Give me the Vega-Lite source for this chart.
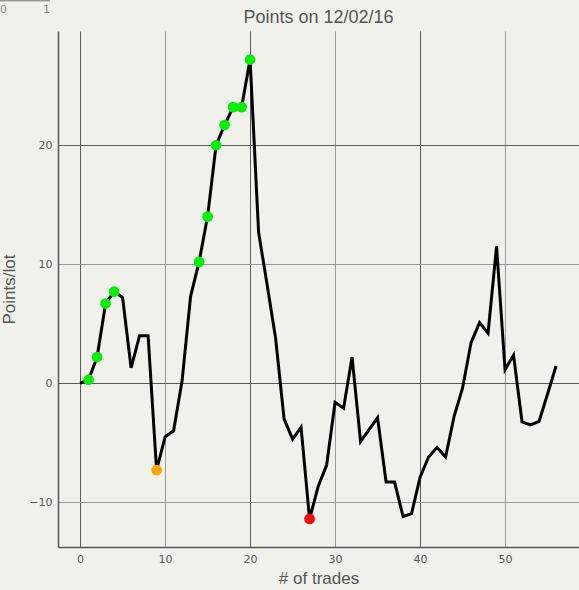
{
  "$schema": "https://vega.github.io/schema/vega-lite/v6.json",
  "width": 521,
  "height": 516,
  "autosize": {"type": "none"},
  "padding": {"left": 58, "top": 31, "right": 0, "bottom": 43},
  "background": "#f1f1ec",
  "title": {"text": "Points on 12/02/16", "font": "Liberation Sans", "fontSize": 18, "fontWeight": "normal", "color": "#555555", "offset": 4, "dy": 31},
  "data": {
    "values": [
      {"trade": 0, "points": 0.0, "marker": null},
      {"trade": 1, "points": 0.3, "marker": "new high"},
      {"trade": 2, "points": 2.2, "marker": "new high"},
      {"trade": 3, "points": 6.7, "marker": "new high"},
      {"trade": 4, "points": 7.7, "marker": "new high"},
      {"trade": 5, "points": 7.2, "marker": null},
      {"trade": 6, "points": 1.3, "marker": null},
      {"trade": 7, "points": 4.0, "marker": null},
      {"trade": 8, "points": 4.0, "marker": null},
      {"trade": 9, "points": -7.3, "marker": "low"},
      {"trade": 10, "points": -4.5, "marker": null},
      {"trade": 11, "points": -4.0, "marker": null},
      {"trade": 12, "points": 0.2, "marker": null},
      {"trade": 13, "points": 7.3, "marker": null},
      {"trade": 14, "points": 10.2, "marker": "new high"},
      {"trade": 15, "points": 14.0, "marker": "new high"},
      {"trade": 16, "points": 20.0, "marker": "new high"},
      {"trade": 17, "points": 21.7, "marker": "new high"},
      {"trade": 18, "points": 23.2, "marker": "new high"},
      {"trade": 19, "points": 23.2, "marker": "new high"},
      {"trade": 20, "points": 27.2, "marker": "new high"},
      {"trade": 21, "points": 12.7, "marker": null},
      {"trade": 22, "points": 8.3, "marker": null},
      {"trade": 23, "points": 3.8, "marker": null},
      {"trade": 24, "points": -3.0, "marker": null},
      {"trade": 25, "points": -4.7, "marker": null},
      {"trade": 26, "points": -3.7, "marker": null},
      {"trade": 27, "points": -11.4, "marker": "lowest"},
      {"trade": 28, "points": -8.7, "marker": null},
      {"trade": 29, "points": -6.9, "marker": null},
      {"trade": 30, "points": -1.6, "marker": null},
      {"trade": 31, "points": -2.1, "marker": null},
      {"trade": 32, "points": 2.2, "marker": null},
      {"trade": 33, "points": -4.9, "marker": null},
      {"trade": 34, "points": -3.9, "marker": null},
      {"trade": 35, "points": -2.9, "marker": null},
      {"trade": 36, "points": -8.3, "marker": null},
      {"trade": 37, "points": -8.3, "marker": null},
      {"trade": 38, "points": -11.2, "marker": null},
      {"trade": 39, "points": -10.95, "marker": null},
      {"trade": 40, "points": -7.9, "marker": null},
      {"trade": 41, "points": -6.2, "marker": null},
      {"trade": 42, "points": -5.4, "marker": null},
      {"trade": 43, "points": -6.2, "marker": null},
      {"trade": 44, "points": -2.8, "marker": null},
      {"trade": 45, "points": -0.4, "marker": null},
      {"trade": 46, "points": 3.4, "marker": null},
      {"trade": 47, "points": 5.1, "marker": null},
      {"trade": 48, "points": 4.2, "marker": null},
      {"trade": 49, "points": 11.5, "marker": null},
      {"trade": 50, "points": 1.15, "marker": null},
      {"trade": 51, "points": 2.35, "marker": null},
      {"trade": 52, "points": -3.25, "marker": null},
      {"trade": 53, "points": -3.5, "marker": null},
      {"trade": 54, "points": -3.2, "marker": null},
      {"trade": 55, "points": -0.9, "marker": null},
      {"trade": 56, "points": 1.45, "marker": null}
    ]
  },
  "encoding": {
    "x": {
      "field": "trade", "type": "quantitative",
      "scale": {"domain": [-2.6, 58.7], "nice": false, "zero": false},
      "axis": {"values": [0, 10, 20, 30, 40, 50], "title": "# of trades", "titlePadding": 6}
    },
    "y": {
      "field": "points", "type": "quantitative",
      "scale": {"domain": [-13.76, 29.6], "nice": false, "zero": false},
      "axis": {"values": [-10, 0, 10, 20], "title": "Points/lot", "titlePadding": 10}
    }
  },
  "layer": [
    {
      "mark": {"type": "line", "color": "black", "strokeWidth": 3, "interpolate": "linear"}
    },
    {
      "transform": [{"filter": "datum.marker != null"}],
      "mark": {"type": "circle", "opacity": 1, "size": 115, "strokeWidth": 0},
      "encoding": {
        "color": {
          "field": "marker", "type": "nominal", "legend": null,
          "scale": {"domain": ["new high", "low", "lowest"], "range": ["#00ee00", "#ffa500", "#ff0000"]}
        },
        "stroke": {
          "field": "points", "type": "quantitative",
          "scale": {"domain": [0, 1], "range": ["#999999", "#999999"]},
          "legend": {
            "orient": "none", "legendX": -58, "legendY": -31,
            "direction": "horizontal", "title": null,
            "values": [0, 1], "format": "d",
            "gradientLength": 50, "gradientThickness": 1.5, "gradientStrokeWidth": 0,
            "labelFont": "DejaVu Sans", "labelFontSize": 11, "labelColor": "#888888",
            "labelOffset": 2, "padding": 0
          }
        }
      }
    }
  ],
  "config": {
    "view": {"stroke": null},
    "axis": {
      "domainColor": "#555555",
      "domainWidth": 1.5,
      "tickSize": 0,
      "labelPadding": 6,
      "labelFont": "DejaVu Sans",
      "labelFontSize": 11,
      "labelColor": "#555555",
      "titleFont": "Liberation Sans",
      "titleFontSize": 17,
      "titleFontWeight": "normal",
      "titleColor": "#555555",
      "gridColor": {"condition": {"test": "datum.value % 20 === 0", "value": "#5a5a5a"}, "value": "#999999"},
      "gridWidth": 1,
      "gridOpacity": 1
    }
  }
}
